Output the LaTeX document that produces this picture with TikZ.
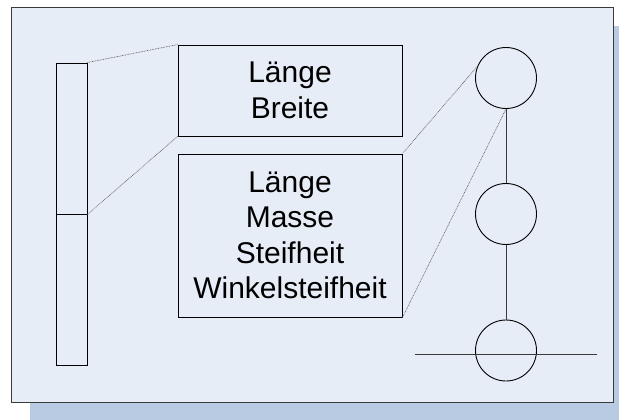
\documentclass[tikz,border=0pt]{standalone}
\usepackage{fontspec}
\setmainfont{Liberation Sans}
\definecolor{bgblue}{HTML}{E7EDF7}
\definecolor{shadowblue}{HTML}{B9CAE3}
\definecolor{frameline}{HTML}{3A3A3A}
\tikzset{
  boxnode/.style={draw=black, line width=0.9pt, rectangle, inner sep=0pt, align=center,
    font=\fontsize{30}{35.5}\selectfont},
  barnode/.style={draw=black, line width=0.9pt, rectangle, inner sep=0pt},
  massnode/.style={draw=black, line width=0.9pt, circle, inner sep=0pt, minimum size=61pt},
  rodline/.style={draw=frameline, line width=0.9pt},
  zoomline/.style={draw=black!60, line width=0.7pt, dash pattern=on 0.8pt off 0.8pt},
}
\begin{document}
\begin{tikzpicture}[x=1pt, y=-1pt]
\useasboundingbox (0,0) rectangle (619,420);
% shadow and background
\fill[shadowblue] (30,26) rectangle (619,420);
\filldraw[fill=bgblue, draw=frameline, line width=0.9pt] (11,7) rectangle (613,402);
% bar
\node[barnode, minimum width=31pt, minimum height=151pt] (bartop) at (71.5,138.5) {};
\node[barnode, minimum width=31pt, minimum height=151pt] (barbot) at (71.5,289.5) {};
% boxes
\node[boxnode, minimum width=224pt, minimum height=91pt] (box1) at (290,90.5) {Länge\\Breite};
\node[boxnode, minimum width=224pt, minimum height=163pt] (box2) at (290,235.5) {Länge\\Masse\\Steifheit\\Winkelsteifheit};
% circles
\node[massnode] (c1) at (506,78) {};
\node[massnode] (c2) at (506,214) {};
\node[massnode] (c3) at (506,350.5) {};
\coordinate (hl) at (415,354);
\coordinate (hr) at (597,354);
\draw[rodline] (c1.south) -- (c2.north);
\draw[rodline] (c2.south) -- (c3.north);
\draw[rodline] (hl) -- (hr);
% zoom lines
\draw[zoomline] (bartop.north east) -- (box1.north west);
\draw[zoomline] (bartop.south east) -- (box1.south west);
\draw[zoomline] (c1.158) -- (box2.north east);
\draw[zoomline] (c1.south) -- (box2.south east);
\end{tikzpicture}
\end{document}
